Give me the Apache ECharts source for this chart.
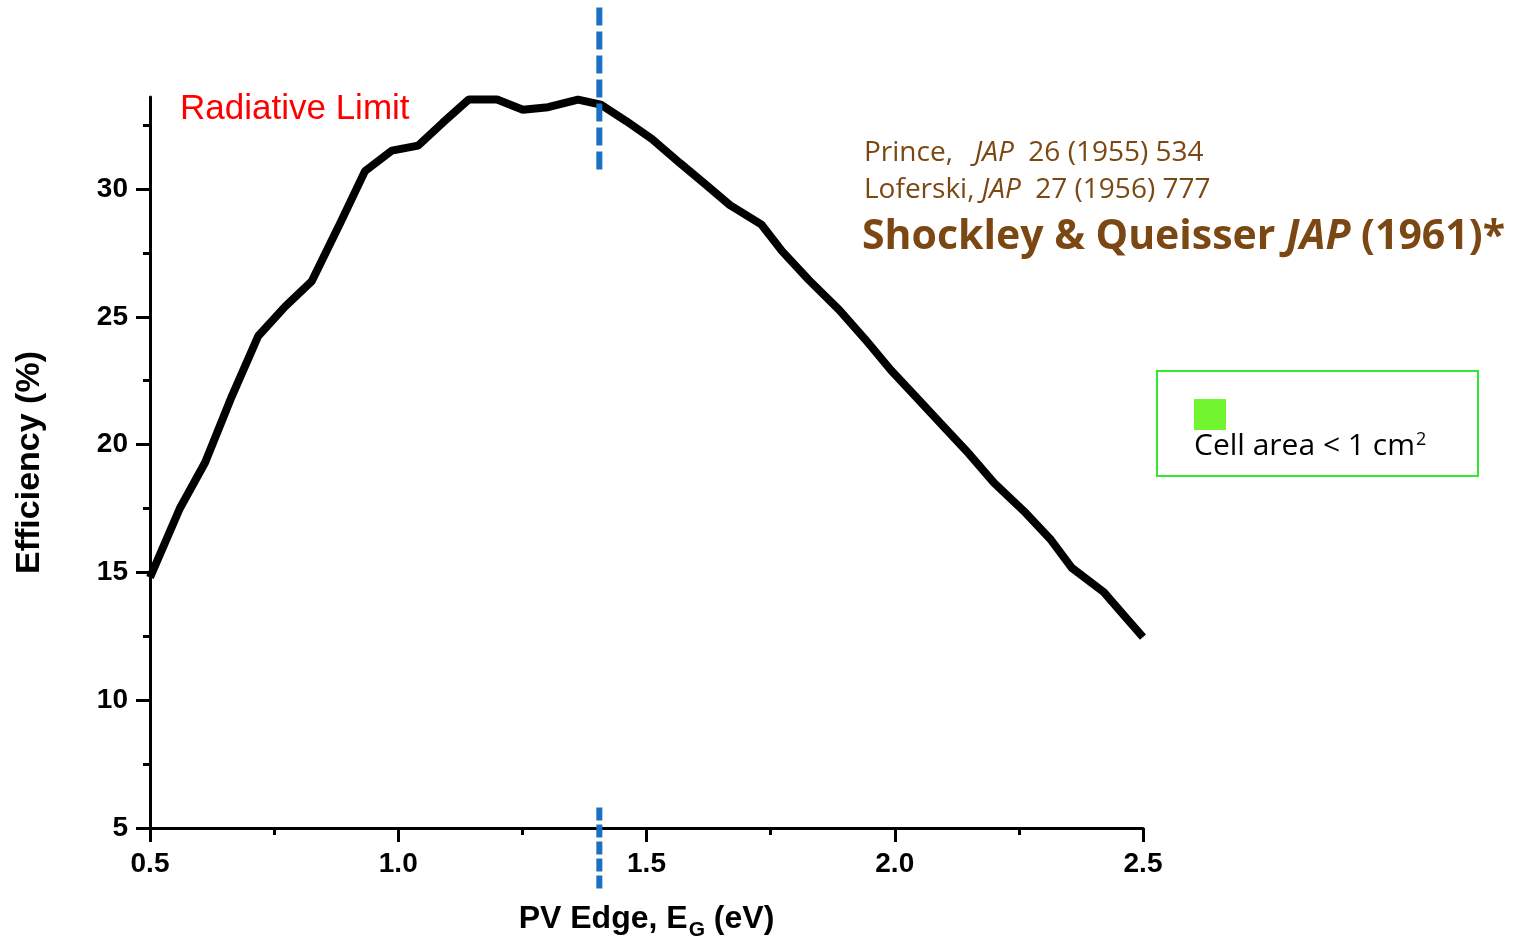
<!DOCTYPE html>
<html>
<head>
<meta charset="utf-8">
<script src="https://cdn.jsdelivr.net/npm/echarts@6/dist/echarts.min.js"></script>
<style>
  html, body { margin: 0; padding: 0; background: #fff; }
  #chart { width: 1524px; height: 944px; }
</style>
</head>
<body>
<div id="chart"></div>
<script>
// band gap (eV) and radiative-limit efficiency (%)
var bandGap = [0.5, 0.560, 0.611, 0.665, 0.718, 0.772, 0.826, 0.879, 0.933, 0.987,
  1.040, 1.090, 1.142, 1.199, 1.251, 1.302, 1.362, 1.408, 1.459, 1.511,
  1.567, 1.620, 1.668, 1.731, 1.773, 1.827, 1.888, 1.940, 1.992, 2.041,
  2.101, 2.150, 2.200, 2.260, 2.313, 2.357, 2.421, 2.466, 2.500];
var efficiency = [14.8, 17.5, 19.3, 21.9, 24.25, 25.4, 26.4, 28.5, 30.7, 31.5,
  31.7, 32.6, 33.5, 33.5, 33.1, 33.2, 33.5, 33.3, 32.66, 31.96,
  31.02, 30.16, 29.37, 28.62, 27.57, 26.44, 25.27, 24.13, 22.92, 21.90,
  20.65, 19.63, 18.50, 17.40, 16.31, 15.17, 14.23, 13.22, 12.47];

// dashed marker at the optimum gap, drawn in two pieces
var markerGap = 1.405;
var markerTop = [37.1, 30.7];
var markerBottom = [5.8, 2.6];

var yMajor = [5, 10, 15, 20, 25, 30];
var yMinor = [7.5, 12.5, 17.5, 22.5, 27.5, 32.5];

var chart = echarts.init(document.getElementById("chart"));

var axisFont = { fontFamily: "Liberation Sans", fontWeight: "bold", fontSize: 28, color: "#000" };
var brown = "#7b4813";

chart.setOption({
  animation: false,
  backgroundColor: "#fff",
  grid: { left: 150, right: 381, top: 97, bottom: 116, outerBoundsMode: "none", containLabel: false },
  xAxis: {
    type: "value",
    min: 0.5,
    max: 2.5,
    interval: 0.5,
    name: "{a|PV Edge, E}{s|G}{a| (eV)}",
    nameLocation: "middle",
    nameGap: 70,
    nameTextStyle: {
      rich: {
        a: { fontFamily: "Liberation Sans", fontWeight: "bold", fontSize: 32, color: "#000", verticalAlign: "middle" },
        s: { fontFamily: "Liberation Sans", fontWeight: "bold", fontSize: 21, color: "#000", padding: [22, 0, 0, 1] }
      }
    },
    axisLine: { onZero: false, lineStyle: { color: "#000", width: 3 } },
    axisTick: { inside: false, length: 14, lineStyle: { color: "#000", width: 3 } },
    minorTick: { show: true, splitNumber: 2, length: 7, lineStyle: { color: "#000", width: 3 } },
    axisLabel: Object.assign({ margin: 22, formatter: function (v) { return v.toFixed(1); } }, axisFont),
    splitLine: { show: false }
  },
  yAxis: [
    {
      type: "value",
      position: "left",
      min: 5,
      max: 33.6,
      interval: 5,
      name: "Efficiency (%)",
      nameLocation: "middle",
      nameRotate: 90,
      nameGap: 103,
      nameTextStyle: { fontFamily: "Liberation Sans", fontWeight: "bold", fontSize: 34, color: "#000" },
      axisLine: { onZero: false, lineStyle: { color: "#000", width: 3 } },
      axisTick: { customValues: yMajor, length: 14, lineStyle: { color: "#000", width: 3 } },
      axisLabel: Object.assign({ customValues: yMajor, margin: 22 }, axisFont),
      splitLine: { show: false }
    },
    {
      type: "value",
      position: "left",
      min: 5,
      max: 33.6,
      interval: 5,
      axisLine: { show: false, onZero: false },
      axisTick: { customValues: yMinor, length: 7, lineStyle: { color: "#000", width: 3 } },
      axisLabel: { show: false },
      splitLine: { show: false }
    }
  ],
  series: [
    {
      type: "line",
      data: bandGap.map(function (x, i) { return [x, efficiency[i]]; }),
      showSymbol: false,
      symbol: "none",
      lineStyle: { color: "#000", width: 8 },
      z: 3
    },
    {
      type: "line",
      clip: false,
      symbol: "none",
      data: markerTop.map(function (y) { return [markerGap, y]; }),
      lineStyle: { color: "#1a70c2", width: 6, type: [18, 6], cap: "butt" },
      z: 4
    },
    {
      type: "line",
      clip: false,
      symbol: "none",
      data: markerBottom.map(function (y) { return [markerGap, y]; }),
      lineStyle: { color: "#1a70c2", width: 6, type: [13, 4], cap: "butt" },
      z: 4
    }
  ],
  graphic: [
    {
      type: "text", left: 180, top: 92,
      style: { text: "Radiative Limit", fill: "#ff0000", font: "35px 'Liberation Sans'" }
    },
    {
      type: "text", left: 864, top: 139,
      style: {
        text: "Prince,   {i|JAP}  26 (1955) 534", fill: brown, font: "28px 'Open Sans'",
        rich: { i: { fontStyle: "italic", fontFamily: "Open Sans", fontSize: 28, fill: brown } }
      }
    },
    {
      type: "text", left: 864, top: 176,
      style: {
        text: "Loferski, {i|JAP}  27 (1956) 777", fill: brown, font: "28px 'Open Sans'",
        rich: { i: { fontStyle: "italic", fontFamily: "Open Sans", fontSize: 28, fill: brown } }
      }
    },
    {
      type: "text", left: 862, top: 217,
      style: {
        text: "Shockley & Queisser {i|JAP} (1961)*", fill: brown, font: "bold 41px 'Open Sans'",
        rich: { i: { fontStyle: "italic", fontWeight: "bold", fontFamily: "Open Sans", fontSize: 41, fill: brown } }
      }
    },
    {
      type: "rect",
      shape: { x: 1157, y: 371, width: 321, height: 105 },
      style: { fill: "#fff", stroke: "#33e833", lineWidth: 2 }
    },
    {
      type: "rect",
      shape: { x: 1194, y: 399, width: 32, height: 31 },
      style: { fill: "#70f52f" }
    },
    {
      type: "text", left: 1194, top: 431,
      style: {
        text: "{a|Cell area < 1 cm}{s|2}",
        rich: {
          a: { fontFamily: "Open Sans", fontSize: 30, fill: "#000", verticalAlign: "bottom" },
          s: { fontFamily: "Open Sans", fontSize: 18, fill: "#000", verticalAlign: "top", padding: [0, 0, 6, 1] }
        }
      }
    }
  ]
});
</script>
</body>
</html>
